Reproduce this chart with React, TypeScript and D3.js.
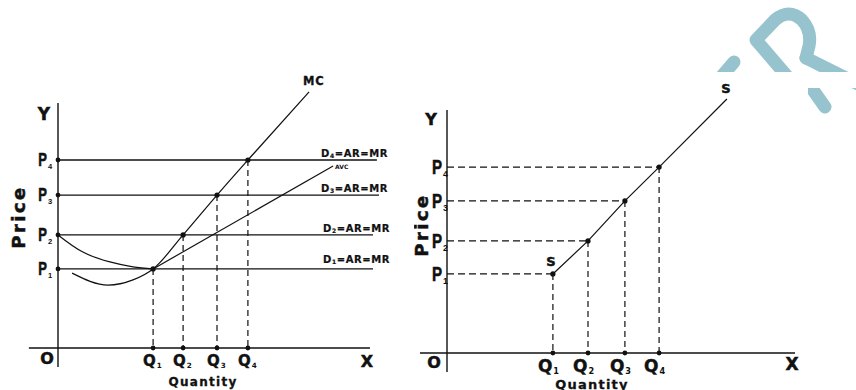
import React from "react";
import * as d3 from "d3";

// ---------- Data (abstract units 0..100) ----------
const PRICE_LABELS = ["1", "2", "3", "4"];
const QTY_LABELS = ["1", "2", "3", "4"];
const DEMAND_LABELS = ["1", "2", "3", "4"];

// Left panel: firm's equilibrium
const LEFT_Q = [31.7, 41.7, 53, 63.3];
const LEFT_P = [30.4, 43.5, 58.8, 72.3];
const LEFT_D_END = [105, 105, 107, 106.3];
const MC_LOW: [number, number][] = [[4.7, 28.8], [16.7, 24.2], [25, 26.2]];
const MC_TOP: [number, number] = [83.7, 98.5];
const AVC_CURVE: [number, number][] = [[0, 43.5], [8.3, 36.9], [17.3, 33.1], [25, 31.2], [31.7, 30.4]];
const AVC_END: [number, number] = [91.7, 70];

// Right panel: supply curve
const RIGHT_Q = [35.3, 47, 59.3, 70.7];
const RIGHT_P = [30.4, 43.1, 58.5, 71.5];
const S_TOP: [number, number] = [93.3, 97.7];

const BOLD = "'DejaVu Sans', sans-serif";
const NARROW = "'Liberation Sans', Arial, sans-serif";
const ink = "#111";

function PLabel({ x, y, sub, size }: { x: number; y: number; sub: string; size: number }) {
  return (
    <g>
      <g transform={`translate(${x},${y}) scale(0.72,1)`}>
        <text textAnchor="end" fontFamily={NARROW} fontWeight="bold" fontSize={size} fill={ink} stroke={ink} strokeWidth={0.6}>P</text>
      </g>
      <text x={x + 1} y={y + 3} fontFamily={NARROW} fontWeight="bold" fontSize={size * 0.42} fill={ink}>{sub}</text>
    </g>
  );
}

function QLabel({ x, y, sub, size }: { x: number; y: number; sub: string; size: number }) {
  return (
    <text x={x} y={y} fontFamily={BOLD} fontWeight="bold" fontSize={size} fill={ink} stroke={ink} strokeWidth={0.4}>
      Q<tspan fontSize={size * 0.48} dx={1} dy={2} strokeWidth={0}>{sub}</tspan>
    </text>
  );
}

export default function App() {
  const lx = d3.scaleLinear().domain([0, 100]).range([58, 358]);
  const ly = d3.scaleLinear().domain([0, 100]).range([348, 88]);
  const rx = d3.scaleLinear().domain([0, 100]).range([447, 747]);
  const ry = d3.scaleLinear().domain([0, 100]).range([353, 93]);

  const leftPts: [number, number][] = LEFT_Q.map((q, i) => [q, LEFT_P[i]]);
  const mcPath = d3.line<[number, number]>().x((d) => lx(d[0])).y((d) => ly(d[1])).curve(d3.curveMonotoneX)([...MC_LOW, ...leftPts, MC_TOP]) || "";
  const avcCurve = d3.line<[number, number]>().x((d) => lx(d[0])).y((d) => ly(d[1])).curve(d3.curveNatural)(AVC_CURVE) || "";
  const avcLine = d3.line<[number, number]>().x((d) => lx(d[0])).y((d) => ly(d[1]))([AVC_CURVE[AVC_CURVE.length - 1], AVC_END]) || "";

  const rightPts: [number, number][] = RIGHT_Q.map((q, i) => [q, RIGHT_P[i]]);
  const sPath = d3.line<[number, number]>().x((d) => rx(d[0])).y((d) => ry(d[1]))([...rightPts, S_TOP]) || "";

  const big = { fontFamily: BOLD, fontWeight: "bold" as const, fill: ink, stroke: ink, strokeWidth: 0.5 };

  return (
    <svg width={856} height={390} style={{ position: "absolute", left: 0, top: 0, background: "#fff" }}>
      <defs>
        <clipPath id="wm">
          <rect x={690} y={0} width={170} height={72} />
          <rect x={808} y={88} width={50} height={40} />
        </clipPath>
        <clipPath id="rprice">
          <rect x={414} y={0} width={40} height={390} />
        </clipPath>
      </defs>
      <rect width={856} height={390} fill="#fff" />

      {/* watermark */}
      <g clipPath="url(#wm)" stroke="#97c3cf" strokeWidth={13} fill="none" strokeLinejoin="round" strokeLinecap="round">
        <line x1={722} y1={76} x2={734} y2={62} />
        <path d="M792,82 L756,40 L775,20 Q789,8 802,20 Q812,31 809,46 L806,58" />
        <path d="M806,58 L862,86" />
        <path d="M806,80 L825,107" />
      </g>

      {/* ================= LEFT PANEL ================= */}
      <line x1={lx(0)} y1={ly(94.2)} x2={lx(0)} y2={ly(-7.3)} stroke={ink} strokeWidth={1.4} />
      <line x1={lx(-9.7)} y1={ly(0)} x2={lx(104)} y2={ly(0)} stroke={ink} strokeWidth={1.4} />

      {LEFT_P.map((p, i) => (
        <line key={"d" + i} x1={lx(0)} y1={ly(p)} x2={lx(LEFT_D_END[i])} y2={ly(p)} stroke={ink} strokeWidth={1.3} />
      ))}
      {leftPts.map((d, i) => (
        <line key={"v" + i} x1={lx(d[0])} y1={ly(d[1])} x2={lx(d[0])} y2={ly(0)} stroke={ink} strokeWidth={1.2} strokeDasharray="6,4" />
      ))}
      <path d={mcPath} fill="none" stroke={ink} strokeWidth={1.2} />
      <path d={avcCurve} fill="none" stroke={ink} strokeWidth={1.2} />
      <path d={avcLine} fill="none" stroke={ink} strokeWidth={1.2} />

      {leftPts.map((d, i) => (
        <g key={"ld" + i}>
          <circle cx={lx(d[0])} cy={ly(d[1])} r={2.6} fill={ink} />
          <circle cx={lx(d[0])} cy={ly(0)} r={2.4} fill={ink} />
          <circle cx={lx(0)} cy={ly(d[1])} r={2.4} fill={ink} />
        </g>
      ))}

      <text x={44} y={120} textAnchor="middle" fontSize={17} {...big}>Y</text>
      <text x={47} y={364} textAnchor="middle" fontSize={16} {...big}>O</text>
      <text x={367} y={367} textAnchor="middle" fontSize={16} {...big}>X</text>
      <text x={203} y={386} textAnchor="middle" fontFamily={BOLD} fontWeight="bold" fontSize={12} letterSpacing={1.3} fill={ink} stroke={ink} strokeWidth={0.3}>Quantity</text>
      <text transform="translate(25,217) rotate(-90)" textAnchor="middle" fontSize={18} letterSpacing={2.5} {...big}>Price</text>
      <text x={303} y={85} fontFamily={BOLD} fontWeight="bold" fontSize={11.5} letterSpacing={0.8} fill={ink} stroke={ink} strokeWidth={0.3}>MC</text>
      <text x={335} y={169} fontFamily={BOLD} fontWeight="bold" fontSize={6} fill={ink}>AVC</text>
      {LEFT_P.map((p, i) => (
        <PLabel key={"lp" + i} x={47} y={ly(p) + 6} sub={PRICE_LABELS[i]} size={18} />
      ))}
      {LEFT_Q.map((q, i) => (
        <QLabel key={"lq" + i} x={lx(q) - 10} y={ly(0) + 18} sub={QTY_LABELS[i]} size={15} />
      ))}
      {LEFT_P.map((p, i) => (
        <text key={"dl" + i} x={i < 2 ? 323 : 321} y={ly(p) - (i === 0 ? 6 : 3)} fontFamily={BOLD} fontWeight="bold" fontSize={10} letterSpacing={0.6} fill={ink} stroke={ink} strokeWidth={0.2}>
          D<tspan fontSize={6} dy={1}>{DEMAND_LABELS[i]}</tspan><tspan dy={-1}>=AR=MR</tspan>
        </text>
      ))}

      {/* ================= RIGHT PANEL ================= */}
      <line x1={rx(0)} y1={ry(93.5)} x2={rx(0)} y2={ry(-7.3)} stroke={ink} strokeWidth={1.4} />
      <line x1={rx(-9)} y1={ry(0)} x2={rx(116)} y2={ry(0)} stroke={ink} strokeWidth={1.4} />

      {rightPts.map((d, i) => (
        <g key={"rdash" + i}>
          <line x1={rx(0)} y1={ry(d[1])} x2={rx(d[0])} y2={ry(d[1])} stroke={ink} strokeWidth={1.2} strokeDasharray="7,4" />
          <line x1={rx(d[0])} y1={ry(d[1])} x2={rx(d[0])} y2={ry(0)} stroke={ink} strokeWidth={1.2} strokeDasharray="6,4" />
        </g>
      ))}
      <path d={sPath} fill="none" stroke={ink} strokeWidth={1.2} />
      {rightPts.map((d, i) => (
        <g key={"rd" + i}>
          <circle cx={rx(d[0])} cy={ry(d[1])} r={2.6} fill={ink} />
          <circle cx={rx(d[0])} cy={ry(0)} r={2.4} fill={ink} />
        </g>
      ))}

      <text x={431} y={125} textAnchor="middle" fontSize={16} {...big}>Y</text>
      <text x={434} y={368} textAnchor="middle" fontSize={16} {...big}>O</text>
      <text x={792} y={370} textAnchor="middle" fontSize={17} {...big}>X</text>
      <text x={592} y={389} textAnchor="middle" fontFamily={BOLD} fontWeight="bold" fontSize={13} letterSpacing={1.2} fill={ink} stroke={ink} strokeWidth={0.3}>Quantity</text>
      <g clipPath="url(#rprice)">
        <text transform="translate(428,225) rotate(-90)" textAnchor="middle" fontSize={18} letterSpacing={2.5} {...big}>Price</text>
      </g>
      <text x={726} y={93} textAnchor="middle" fontSize={13} {...big}>S</text>
      <text x={551} y={266} textAnchor="middle" fontSize={13} {...big}>S</text>
      {RIGHT_P.map((p, i) => (
        <PLabel key={"rp" + i} x={442} y={ry(p) + 7} sub={PRICE_LABELS[i]} size={21} />
      ))}
      {RIGHT_Q.map((q, i) => (
        <QLabel key={"rq" + i} x={rx(q) - 15} y={ry(0) + 19} sub={QTY_LABELS[i]} size={17} />
      ))}
    </svg>
  );
}
